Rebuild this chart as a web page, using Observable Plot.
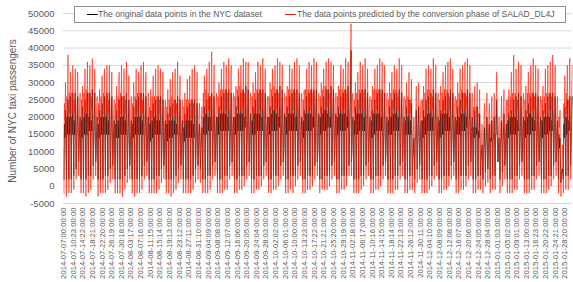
<!DOCTYPE html>
<html><head><meta charset="utf-8">
<script src="https://cdn.jsdelivr.net/npm/d3@7"></script>
<script src="https://cdn.jsdelivr.net/npm/@observablehq/plot@0.6"></script>
<style>
body{margin:0;background:#fff;}
#wrap{position:relative;width:573px;height:282px;font-family:"Liberation Sans",Arial,sans-serif;color:#595959;}
#ytitle{position:absolute;left:12px;top:111px;transform:translate(-50%,-50%) rotate(-90deg);font-size:10px;white-space:nowrap;}
#legend{position:absolute;left:74px;top:6px;width:492px;height:17px;box-sizing:border-box;border:1px solid #8c8c8c;background:#fff;font-size:8.6px;line-height:10px;}
.sw{position:absolute;top:7px;width:11px;height:0;border-top:1.3px solid;}
.lt{position:absolute;top:2px;white-space:nowrap;}
svg{display:block;}
</style></head><body><div id="wrap"></div>
<script>
// Values in thousands of passengers, one entry per day (2014-07-07 .. 2015-01-31), rows = weeks Mon..Sun
const origLow = [
2,2,2,2,3,5,7, 2,2,2,3,3,6,7, 2,2,2,3,3,5,6, 2,2,2,2,3,5,6, 2,2,2,2,3,6,7,
2,2,2,3,3,5,6, 2,2,2,2,3,5,6, 2,2,2,2,3,5,6, 5,2,2,3,3,6,7, 2,2,2,3,3,6,7,
2,2,3,3,3,6,7, 2,2,3,3,3,6,7, 2,2,3,3,3,6,7, 2,2,3,3,3,6,7, 2,2,3,3,3,6,7,
2,2,3,3,3,6,7, 2,2,3,3,3,6,7, 2,2,2,3,3,6,7, 2,2,3,3,3,6,7, 2,2,2,3,3,6,7,
2,2,3,3,2,5,6, 2,2,2,3,3,6,7, 2,2,3,3,3,6,7, 2,2,3,3,3,6,7, 2,2,3,3,2,4,5,
2,3,3,10,2,4,6, 2,2,2,3,3,6,7, 2,2,2,3,3,6,7, 2,2,2,3,3,6,7, 2,1,2,3,3,6];
const origMorn = [
18,20,20,20,19,11,9, 19,20,21,20,19,11,9, 18,20,20,20,19,10,9, 18,19,20,20,19,10,9, 18,20,20,20,19,11,9,
18,19,20,19,19,10,9, 18,19,19,19,18,10,9, 17,19,19,19,18,10,8, 10,20,21,20,20,11,10, 20,21,21,21,20,11,10,
20,21,21,21,20,12,10, 19,21,21,21,20,11,10, 20,21,22,21,20,12,10, 20,21,21,21,20,12,10, 19,21,21,21,20,12,10,
20,21,22,21,20,12,10, 20,21,21,21,20,12,10, 19,21,21,21,20,11,10, 19,21,21,21,20,12,10, 19,20,21,21,20,11,10,
19,20,19,8,13,11,10, 19,20,21,21,20,11,10, 19,21,21,21,20,11,10, 19,20,21,21,20,12,10, 17,17,16,7,11,10,9,
14,14,15,7,13,10,9, 19,20,20,20,19,11,9, 19,20,21,20,19,11,10, 19,20,20,20,19,11,9, 15,4,18,20,19,11];
const origMid = [
14,15,15,15,15,17,16, 14,15,15,16,16,18,16, 14,15,15,15,15,17,16, 14,14,15,15,15,17,15, 14,15,15,15,15,17,16,
13,14,15,15,15,17,15, 13,14,14,15,15,16,15, 13,14,14,14,14,16,15, 13,15,15,16,16,18,16, 15,16,16,16,16,18,17,
15,16,16,16,17,19,17, 15,15,16,16,16,18,17, 15,16,16,16,17,19,17, 15,16,16,16,16,18,17, 14,16,16,16,17,19,17,
15,16,16,17,17,19,17, 15,16,16,16,17,19,18, 15,15,16,16,16,18,17, 14,15,16,16,16,18,17, 15,15,16,16,16,18,17,
15,15,15,10,14,16,15, 14,15,16,16,16,18,17, 14,15,16,16,16,18,17, 15,15,16,16,17,19,17, 14,15,14,9,12,15,14,
13,14,15,11,13,15,14, 14,15,15,15,16,17,16, 14,15,15,16,16,18,16, 14,15,15,16,16,18,16, 11,4,14,15,16,18];
const origPeak = [
22,25,26,27,27,26,20, 23,25,27,27,28,27,20, 22,24,26,27,27,26,19, 22,25,26,26,27,25,19, 23,25,26,27,27,26,20,
22,24,25,26,26,25,19, 21,23,24,25,26,25,19, 21,23,24,25,25,24,18, 17,23,25,26,27,26,20, 23,26,27,28,28,27,20,
23,26,27,28,29,28,21, 23,25,27,28,28,27,20, 23,26,27,28,29,28,21, 23,26,27,28,28,27,20, 22,26,27,28,28,28,21,
23,26,28,28,29,28,21, 23,26,27,28,29,28,20, 23,25,27,28,28,27,20, 22,25,27,28,28,27,20, 23,25,27,27,28,27,20,
23,25,24,14,22,23,19, 22,25,26,27,28,27,20, 22,25,26,27,28,27,20, 23,25,27,27,28,27,20, 22,23,21,12,17,20,18,
19,20,25,14,19,21,18, 21,22,25,26,27,26,20, 22,24,26,27,27,26,20, 22,24,26,27,27,26,19, 14,5,23,25,26,26];
const predLow = [
-2,-3,-2,-2,-1,2,3, -2,-2,-3,-2,-1,2,3, -3,-2,-2,-2,-1,1,2, -2,-2,-2,-3,-1,1,2, -2,-3,-2,-2,-1,2,3,
-2,-2,-2,-2,-1,1,2, -2,-2,-3,-2,-1,1,2, -2,-2,-2,-2,-1,1,2, 1,-2,-2,-2,-1,2,3, -2,-2,-2,-1,-1,2,3,
-2,-2,-1,-1,0,2,3, -2,-2,-1,-1,0,2,3, -2,-2,-1,-1,0,2,3, -2,-2,-1,-2,0,2,3, -2,-2,-1,-1,0,2,3,
-2,-1,-1,-1,0,2,3, -2,-2,-1,-1,0,3,3, -2,-2,-2,-1,0,2,3, -2,-2,-1,-1,0,2,3, -2,-2,-2,-1,-1,2,3,
-2,-2,-1,-1,-2,1,2, -2,-2,-2,-1,0,2,3, -2,-2,-1,-1,0,2,3, -2,-2,-1,-1,0,2,3, -2,-2,-1,-1,-2,0,1,
-2,-1,-1,7,-2,0,2, -2,-2,-2,-1,-1,2,3, -2,-2,-2,-1,-1,2,3, -2,-2,-2,-1,0,2,3, -2,-3,-2,-1,-1,2];
const predMorn = [
24,26,27,27,25,15,12, 25,27,28,27,26,15,13, 24,26,27,26,25,14,12, 24,26,27,26,25,14,12, 24,26,27,27,25,15,12,
23,26,26,26,25,14,12, 23,25,26,25,24,14,12, 23,25,25,25,24,13,11, 14,27,28,27,26,15,13, 26,28,28,28,27,16,13,
26,28,29,28,27,16,14, 26,27,28,28,27,15,13, 26,28,29,28,27,16,14, 26,28,28,28,27,16,13, 25,28,28,28,27,16,14,
26,28,29,28,27,16,14, 26,28,28,28,27,16,14, 25,27,28,28,27,15,13, 25,28,28,28,27,16,13, 25,27,28,28,26,15,13,
25,26,25,10,18,15,13, 25,27,28,28,26,15,13, 25,27,28,28,26,15,13, 25,27,28,27,26,16,13, 23,23,21,9,15,14,12,
18,19,20,9,17,13,12, 25,26,27,27,25,15,12, 25,27,27,27,26,15,13, 25,26,27,27,26,15,12, 20,5,24,27,25,15];
const predMid = [
19,21,21,21,21,24,23, 19,21,21,22,22,25,23, 19,20,21,21,21,24,22, 19,20,21,21,21,24,22, 19,21,21,21,21,24,23,
18,20,21,21,21,24,22, 18,20,20,21,21,23,22, 18,19,20,20,20,23,21, 18,21,21,22,22,25,23, 21,22,22,22,22,25,24,
21,22,22,22,23,26,24, 21,21,22,22,22,25,24, 21,22,22,22,23,26,24, 21,22,22,22,22,25,24, 20,22,22,22,23,26,24,
21,22,22,23,23,26,24, 21,22,22,22,23,26,25, 21,21,22,22,22,25,24, 20,21,22,22,22,25,24, 21,21,22,22,22,25,24,
21,21,21,14,20,23,22, 20,21,22,22,22,25,24, 20,21,22,22,22,25,24, 21,21,22,22,23,26,24, 20,21,20,13,18,22,20,
19,20,21,15,19,22,20, 20,21,21,21,22,24,23, 20,21,21,22,22,25,23, 20,21,21,22,22,25,23, 17,5,20,21,22,25];
const predPeak = [
30,38,33,35,34,33,27, 29,34,36,35,37,34,26, 28,32,34,35,35,33,25, 29,33,35,34,36,32,26, 30,34,33,35,36,33,27,
28,32,34,35,34,33,25, 28,31,33,34,36,32,25, 27,31,32,34,35,33,24, 23,32,34,36,39,35,27, 30,34,36,35,37,35,27,
29,34,35,37,36,36,27, 30,33,36,35,37,34,26, 30,34,35,37,36,35,27, 29,35,34,36,37,35,27, 28,34,36,35,37,36,27,
30,34,36,37,36,35,27, 29,35,34,37,36,35,27, 30,33,36,35,37,34,26, 29,34,35,37,36,35,27, 30,33,35,34,37,35,26,
30,33,31,20,29,30,25, 29,34,35,34,37,35,27, 29,33,35,36,37,34,26, 30,34,35,36,37,35,27, 29,30,28,18,24,27,24,
26,27,33,20,26,28,25, 28,33,38,34,36,35,27, 29,33,35,37,35,34,26, 29,34,35,36,38,35,26, 22,12,32,35,37,35];
const sampleHours = [5, 9, 14, 20];
const spikeTime = "2014-11-02:01:00:00";
const origSpike = 39.3, predSpike = 47;
const yTicks = [-5000,0,5000,10000,15000,20000,25000,30000,35000,40000,45000,50000];
const tickLabels = [
"2014-07-07:00:00:00","2014-07-10:23:00:00","2014-07-14:22:00:00","2014-07-18:21:00:00","2014-07-22:20:00:00",
"2014-07-26:19:00:00","2014-07-30:18:00:00","2014-08-03:17:00:00","2014-08-07:16:00:00","2014-08-11:15:00:00",
"2014-08-15:14:00:00","2014-08-19:13:00:00","2014-08-23:12:00:00","2014-08-27:11:00:00","2014-08-31:10:00:00",
"2014-09-04:09:00:00","2014-09-08:08:00:00","2014-09-12:07:00:00","2014-09-16:06:00:00","2014-09-20:05:00:00",
"2014-09-24:04:00:00","2014-09-28:03:00:00","2014-10-02:02:00:00","2014-10-06:01:00:00","2014-10-10:00:00:00",
"2014-10-13:23:00:00","2014-10-17:22:00:00","2014-10-21:21:00:00","2014-10-25:20:00:00","2014-10-29:19:00:00",
"2014-11-02:18:00:00","2014-11-06:17:00:00","2014-11-10:16:00:00","2014-11-14:15:00:00","2014-11-18:14:00:00",
"2014-11-22:13:00:00","2014-11-26:12:00:00","2014-11-30:11:00:00","2014-12-04:10:00:00","2014-12-08:09:00:00",
"2014-12-12:08:00:00","2014-12-16:07:00:00","2014-12-20:06:00:00","2014-12-24:05:00:00","2014-12-28:04:00:00",
"2015-01-01:03:00:00","2015-01-05:02:00:00","2015-01-09:01:00:00","2015-01-13:00:00:00","2015-01-16:23:00:00",
"2015-01-20:22:00:00","2015-01-24:21:00:00","2015-01-28:20:00:00"];
const seriesNames = ["The original data points in the NYC dataset","The data points predicted by the conversion phase of SALAD_DL4J"];
const yTitle = "Number of NYC taxi passengers";

const parse = d3.utcParse("%Y-%m-%d:%H:%M:%S");
const start = parse("2014-07-07:00:00:00");
const end = parse("2015-01-31:23:00:00");
function build(arrs, spike) {
  const rows = [];
  for (let d = 0; d < arrs[0].length; d++) {
    for (let k = 0; k < sampleHours.length; k++) {
      rows.push({date: new Date(start.getTime() + (d * 24 + sampleHours[k]) * 3600e3), value: arrs[k][d] * 1000});
    }
  }
  rows.push({date: parse(spikeTime), value: spike * 1000});
  rows.sort((a, b) => a.date - b.date);
  return rows;
}
const orig = build([origLow, origMorn, origMid, origPeak], origSpike);
const pred = build([predLow, predMorn, predMid, predPeak], predSpike);
const tickDates = tickLabels.map(parse);
const labelOf = new Map(tickDates.map((d, i) => [+d, tickLabels[i]]));

const chart = Plot.plot({
  width: 573, height: 282,
  marginTop: 13, marginBottom: 79, marginLeft: 63, marginRight: 1,
  style: {fontFamily: '"Liberation Sans", Arial, sans-serif', fontSize: "9.5px", color: "#595959", background: "transparent"},
  x: {type: "utc", domain: [start, end]},
  y: {domain: [-5000, 50000]},
  marks: [
    Plot.gridY(yTicks, {stroke: "#d9d9d9", strokeOpacity: 1}),
    Plot.axisY(yTicks, {tickSize: 0, tickPadding: 9, tickFormat: d => String(d), label: null}),
    Plot.axisX(tickDates, {tickSize: 0, tickPadding: 4, tickRotate: -90, tickFormat: d => labelOf.get(+d), label: null, fontSize: 7.7}),
    Plot.lineY(orig, {x: "date", y: "value", stroke: "#000000", strokeWidth: 0.7}),
    Plot.lineY(pred, {x: "date", y: "value", stroke: "#ff1a00", strokeWidth: 0.6})
  ]
});
const wrap = document.getElementById("wrap");
wrap.appendChild(chart);
const yt = document.createElement("div"); yt.id = "ytitle"; yt.textContent = yTitle; wrap.appendChild(yt);
const lg = document.createElement("div"); lg.id = "legend";
lg.innerHTML = `<div class="sw" style="left:12px;color:#000"></div><div class="lt" style="left:23px">${seriesNames[0]}</div>
<div class="sw" style="left:210px;color:#ff1a00"></div><div class="lt" style="left:222px">${seriesNames[1]}</div>`;
wrap.appendChild(lg);
</script></body></html>
